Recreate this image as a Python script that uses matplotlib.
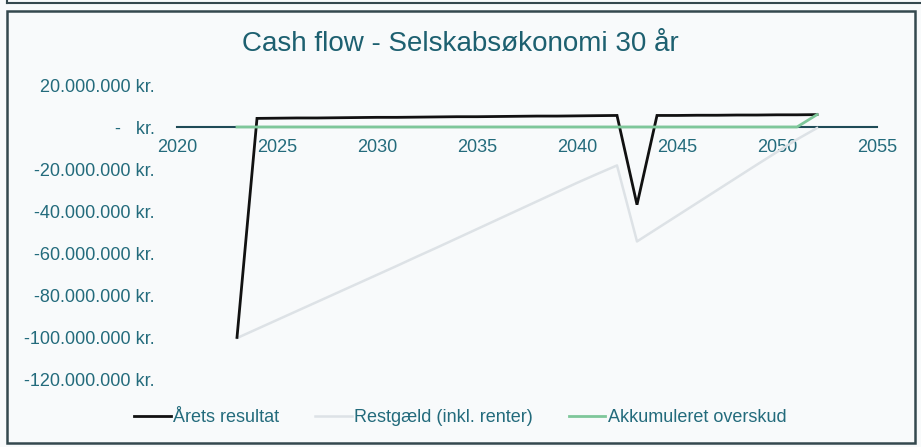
import matplotlib
matplotlib.use("Agg")
import matplotlib.pyplot as plt
from matplotlib.lines import Line2D
from matplotlib.patches import Rectangle
from matplotlib.ticker import FuncFormatter, MultipleLocator

plt.rcParams['font.family'] = ['Liberation Sans', 'DejaVu Sans']

# ---- data (million kr.) ----
years = list(range(2023, 2053))
arets_resultat = [-100.2,
                  4.1, 4.2, 4.3, 4.3, 4.4, 4.5, 4.6, 4.6, 4.7, 4.8,
                  4.9, 4.9, 5.0, 5.1, 5.2, 5.2, 5.3, 5.4, 5.5,
                  -37.0,
                  5.5, 5.5, 5.6, 5.6, 5.7, 5.7, 5.8, 5.8, 5.9]
restgaeld = [-100.5, -96.2, -91.9, -87.6, -83.3, -79.0, -74.7, -70.4, -66.1, -61.7,
             -57.4, -53.0, -48.6, -44.2, -39.8, -35.4, -31.0, -26.6, -22.4, -18.3,
             -54.5,
             -48.4, -42.3, -36.2, -30.1, -24.0, -17.9, -11.9, -5.9, -0.5]
akk_overskud = [0.0, 0.0, 0.0, 0.0, 0.0, 0.0, 0.0, 0.0, 0.0, 0.0,
                0.0, 0.0, 0.0, 0.0, 0.0, 0.0, 0.0, 0.0, 0.0, 0.0,
                0.0, 0.0, 0.0, 0.0, 0.0, 0.0, 0.0, 0.0, 0.0, 5.9]
series_names = ["Årets resultat", "Restgæld (inkl. renter)", "Akkumuleret overskud"]
title = "Cash flow - Selskabsøkonomi 30 år"
MIO = 1_000_000

TEXT = '#236b7c'
TITLE = '#1d6070'
AXIS = '#1f4b57'
BG = '#f8fafb'

W, H = 921, 447
fig = plt.figure(figsize=(W / 100, H / 100), dpi=100, facecolor=BG)

left, right = 177 / W, 877 / W
bottom, top = 1 - 379 / H, 1 - 85 / H
ax = fig.add_axes([left, bottom, right - left, top - bottom])
ax.set_facecolor('none')

ax.plot(years, [v * MIO for v in arets_resultat], color='#111111', lw=2.0,
        label=series_names[0], zorder=3, solid_joinstyle='miter')
ax.plot(years, [v * MIO for v in restgaeld], color='#dde2e6', lw=1.8,
        label=series_names[1], zorder=2)
ax.plot(years, [v * MIO for v in akk_overskud], color='#7ec79a', lw=2.0,
        label=series_names[2], zorder=4)

ax.set_xlim(2020, 2055)
ax.set_ylim(-120 * MIO, 20 * MIO)
ax.xaxis.set_major_locator(MultipleLocator(5))
ax.yaxis.set_major_locator(MultipleLocator(20 * MIO))


def kr(v, pos):
    if abs(v) < 1:
        return "-   kr."
    s = f"{v:,.0f}".replace(",", ".")
    return s + " kr."


ax.yaxis.set_major_formatter(FuncFormatter(kr))

for s in ['top', 'right', 'left']:
    ax.spines[s].set_visible(False)
ax.spines['bottom'].set_position(('data', 0))
ax.spines['bottom'].set_color(AXIS)
ax.spines['bottom'].set_linewidth(1.5)
ax.spines['bottom'].set_zorder(1)

ax.tick_params(axis='x', length=0, pad=9, labelsize=13, labelcolor=TEXT)
ax.tick_params(axis='y', length=0, pad=16, labelsize=13, labelcolor=TEXT)

fig.text(0.5, 1 - 44 / H, title, ha='center', va='center', fontsize=20, color=TITLE)

leg = fig.legend(loc='center', bbox_to_anchor=(0.5, 1 - 418 / H), ncol=3,
                 frameon=False, fontsize=13, handlelength=2.0, handletextpad=0.15,
                 columnspacing=2.0)
for t in leg.get_texts():
    t.set_color(TEXT)

# frames
fig.add_artist(Line2D([7 / W, 1], [1 - 2.5 / H, 1 - 2.5 / H], transform=fig.transFigure,
                      color='#34484e', lw=1.5))
fig.add_artist(Line2D([7 / W, 7 / W], [1 - 2.5 / H, 1], transform=fig.transFigure,
                      color='#34484e', lw=1.5))
fig.add_artist(Rectangle((7 / W, 1 - 443 / H), (915 - 7) / W, (443 - 10.5) / H,
                         transform=fig.transFigure, fill=False, edgecolor='#34484e', lw=1.8))

fig.savefig('out.png', dpi=100, facecolor=BG)
